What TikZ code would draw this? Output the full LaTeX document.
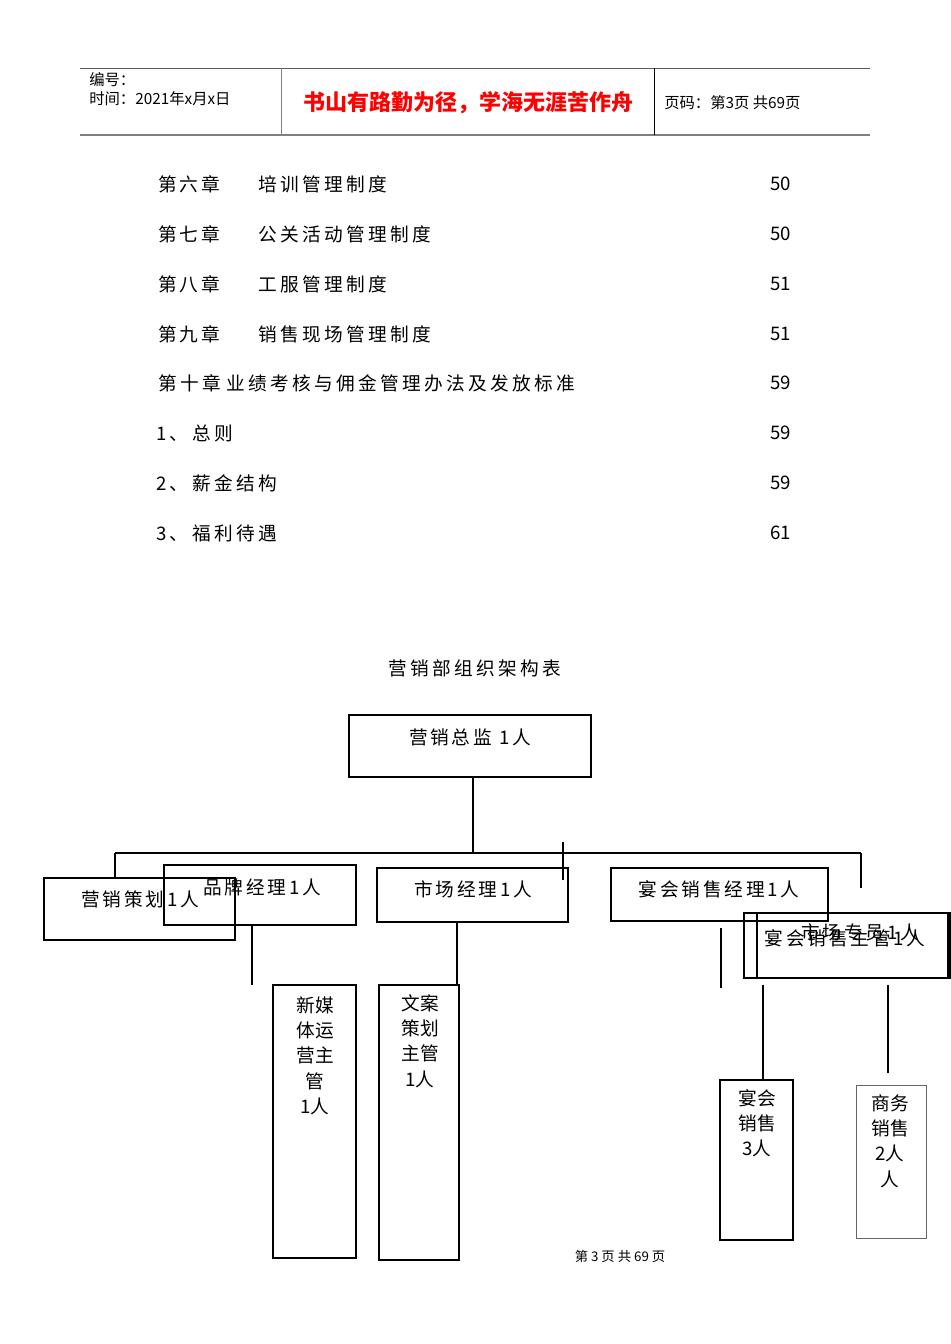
\documentclass[tikz,border=0pt]{standalone}
\usepackage{fontspec}
\setmainfont{Noto Sans CJK SC}
\begin{document}
\begin{tikzpicture}[x=0.75pt,y=-0.75pt,
  bx/.style={draw,line width=0.9pt},
  ln/.style={line width=0.9pt},
  toc/.style={anchor=west,font=\fontsize{14}{14}\selectfont,inner sep=0pt},
  ct/.style={font=\fontsize{14}{14}\selectfont,inner sep=0pt},
  vt/.style={font=\fontsize{14}{19}\selectfont,inner sep=0pt,align=center,anchor=north}]
\useasboundingbox[fill=white] (0,0) rectangle (950,1344);
% header
\draw[line width=0.6pt,gray!70!black] (80,68) -- (870,68);
\draw[line width=1.4pt,gray] (80,135) -- (870,135);
\draw[line width=0.6pt,gray] (281,68) -- (281,135);
\draw[line width=0.6pt] (654,68) -- (654,135);
\node[anchor=west,inner sep=0pt,font=\fontsize{11.5}{11.5}\selectfont] (h1) at (89,80) {编号：};
\node[anchor=west,inner sep=0pt,font=\fontsize{11.5}{11.5}\selectfont] (h2) at (89,99) {时间：2021年x月x日};
\node[inner sep=0pt,text=red,font=\fontsize{16.5}{16.5}\selectfont\bfseries] (h3) at (468,103) {书山有路勤为径，学海无涯苦作舟};
\node[anchor=west,inner sep=0pt,font=\fontsize{11.5}{11.5}\selectfont] (h4) at (664,103) {页码：第3页 共69页};
% toc
\foreach \y/\a/\b/\n in {184/第六章/培训管理制度/50,234/第七章/公关活动管理制度/50,284/第八章/工服管理制度/51,334/第九章/销售现场管理制度/51}{
  \node[toc] at (158,\y) {\addfontfeature{LetterSpace=15}\a};
  \node[toc] at (258,\y) {\addfontfeature{LetterSpace=18}\b};
  \node[toc] at (770,\y) {\n};}
\node[toc] (t10) at (158,383) {\addfontfeature{LetterSpace=18}第十章\hspace{4pt}业绩考核与佣金管理办法及发放标准};
\node[toc] at (770,383) {59};
\node[toc] (t1) at (156,433) {\addfontfeature{LetterSpace=18}1、总则};
\node[toc] at (770,433) {59};
\node[toc] (t2) at (156,483) {\addfontfeature{LetterSpace=18}2、薪金结构};
\node[toc] at (770,483) {59};
\node[toc] (t3) at (156,533) {\addfontfeature{LetterSpace=18}3、福利待遇};
\node[toc] at (770,533) {61};
\node[ct] (title) at (475,668) {\addfontfeature{LetterSpace=18}营销部组织架构表};
% chart boxes
\draw[bx] (349,715) rectangle (591,777); \node[ct] (zj) at (470,737) {\addfontfeature{LetterSpace=15}营销总监 1人};
\draw[ln] (473,777) -- (473,853);
\draw[ln] (115,853) -- (861,853);
\draw[ln] (115,853) -- (115,878);
\draw[ln] (563,842) -- (563,880);
\draw[ln] (861,853) -- (861,888);
\draw[bx] (44,878) rectangle (235,940); \node[ct] (ch) at (140,899) {\addfontfeature{LetterSpace=15}营销策划1人};
\draw[bx] (164,865) rectangle (356,925); \node[ct] (pp) at (262,887) {\addfontfeature{LetterSpace=15}品牌经理1人};
\draw[bx] (377,868) rectangle (568,922); \node[ct] (sc) at (473,889) {\addfontfeature{LetterSpace=15}市场经理1人};
\draw[bx] (611,868) rectangle (828,921); \node[ct] (yh) at (719,889) {\addfontfeature{LetterSpace=15}宴会销售经理1人};
\draw[bx] (744,913) rectangle (948,978);
\draw[bx] (757,913) rectangle (950,978);
\node[ct] (zy) at (860,932) {\addfontfeature{LetterSpace=15}市场专员1人};
\node[ct] (zg) at (845,938) {\addfontfeature{LetterSpace=15}宴会销售主管1人};
\draw[ln] (252,925) -- (252,985);
\draw[ln] (457,922) -- (457,985);
\draw[ln] (721,928) -- (721,988);
\draw[ln] (763,985) -- (763,1080);
\draw[ln] (888,985) -- (888,1073);
\draw[bx] (273,985) rectangle (356,1258);
\node[vt] (xm) at (315,996) {新媒\\体运\\营主\\管\\1人};
\draw[bx] (379,985) rectangle (459,1260);
\node[vt] (wa) at (420,994) {文案\\策划\\主管\\1人};
\draw[bx] (720,1080) rectangle (793,1240);
\node[vt] (yx) at (757,1089) {宴会\\销售\\3人};
\draw[line width=0.7pt,gray!80!black] (856,1085) rectangle (926,1238);
\node[vt] (sw) at (890,1094) {商务\\销售\\2人\\人};
\node[inner sep=0pt,font=\fontsize{10}{10}\selectfont] (ft) at (620,1256) {第 3 页 共 69 页};
\end{tikzpicture}
\end{document}
